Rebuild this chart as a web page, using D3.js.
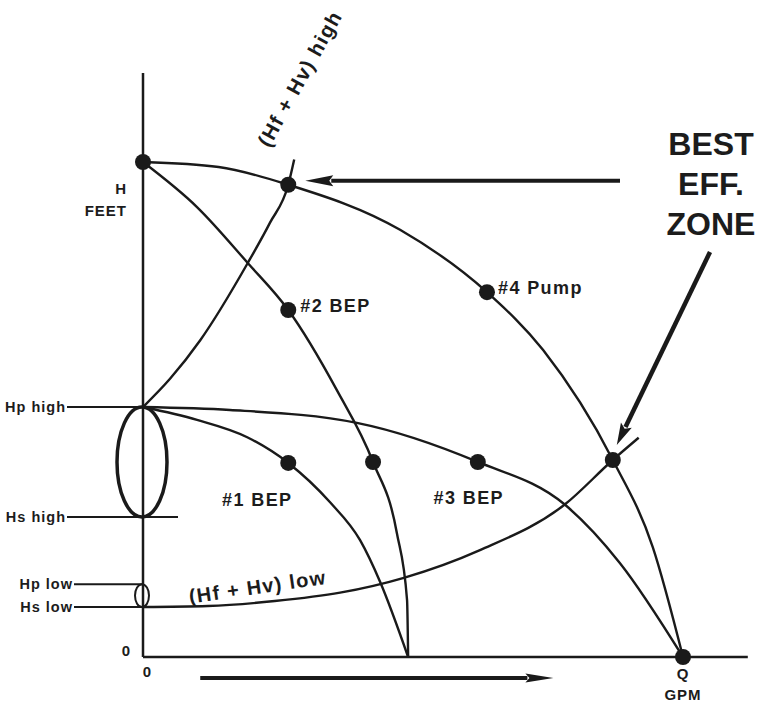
<!DOCTYPE html>
<html>
<head>
<meta charset="utf-8">
<script src="https://cdn.jsdelivr.net/npm/d3@7"></script>
<style>
  html, body { margin: 0; padding: 0; background: #fff; }
  svg { display: block; }
  text { font-family: "Liberation Sans", Arial, Helvetica, sans-serif; font-weight: bold; fill: #1c1c1c; }
</style>
</head>
<body>
<svg id="chart" width="759" height="705"></svg>
<script>
// Head levels marked on the H axis (relative head units)
const levelNames  = ["Hp high", "Hs high", "Hp low", "Hs low"];
const levelValues = [50.5, 28.3, 14.7, 10.1];

// Head-capacity curves as [Q, H] pairs (Q and H in relative units, 100 = full scale)
const pump4Curve = [[0, 100], [14, 99], [26.9, 95.4], [47.6, 86.3], [63.7, 73.7], [74.1, 62], [87, 39.8], [94.4, 22.2], [100, 0]];
const pump2Curve = [[0, 100], [10, 90.9], [19.4, 79.6], [26.9, 70.1], [35.9, 53.9], [42.6, 39.4], [47, 25.1], [48.9, 11.5], [49.1, 0]];
const pump1Curve = [[0, 50.5], [10, 47.9], [19.3, 44.4], [26.9, 39.2], [34.6, 31.3], [40.2, 23.6], [43.9, 15.2], [49.1, 0]];
const pump3Curve = [[0, 50.5], [16.1, 49.9], [39.6, 47.3], [62, 39.4], [78.1, 30.8], [88.3, 19], [100, 0]];

// System curves (Hf + Hv) for the high and low static heads
const systemHigh = [[0, 50.5], [5, 56.2], [10.6, 64], [19.4, 79.6], [23.5, 87.7], [26.9, 95.4], [28, 100.5]];
const systemLow  = [[0, 10.1], [12, 10.3], [24.4, 11.3], [36.5, 13], [48.3, 16], [62.4, 21.6], [78.1, 30.8], [87, 39.8], [91.8, 44.3]];

// Marked operating points
const pointNames = ["H", "top", "#4 Pump", "best", "Q", "#2 BEP", "#1 BEP", "mid", "#3 BEP"];
const pointQ     = [0, 26.9, 63.7, 87, 100, 26.9, 26.9, 42.6, 62];
const pointH     = [100, 95.4, 73.7, 39.8, 0, 70.1, 39.2, 39.4, 39.4];

const svg = d3.select("#chart");
const ink = "#1a1a1a";

const x = d3.scaleLinear().domain([0, 100]).range([143, 683]);
const y = d3.scaleLinear().domain([0, 100]).range([657, 162]);

const line = d3.line()
  .x(d => x(d[0]))
  .y(d => y(d[1]))
  .curve(d3.curveMonotoneX);

// Axes
svg.append("line")
  .attr("x1", x(0)).attr("x2", x(0))
  .attr("y1", y(0)).attr("y2", y(118))
  .attr("stroke", ink).attr("stroke-width", 2.5);
svg.append("line")
  .attr("x1", x(0)).attr("x2", x(112))
  .attr("y1", y(0)).attr("y2", y(0))
  .attr("stroke", ink).attr("stroke-width", 2.5);

// Level marks with their names
levelValues.forEach((v, i) => {
  const isLow = v < 20;
  const x1 = isLow ? 74 : 67;
  const x2 = levelNames[i] === "Hs high" ? x(0) + 35 : x(0);
  svg.append("line")
    .attr("x1", x1).attr("x2", x2)
    .attr("y1", y(v)).attr("y2", y(v))
    .attr("stroke", ink).attr("stroke-width", 2);
  svg.append("text")
    .attr("x", x1 - 1).attr("y", y(v) + 5)
    .attr("text-anchor", "end")
    .attr("font-size", 14.5)
    .attr("letter-spacing", 1)
    .text(levelNames[i]);
});

// Static head ellipses between Hs and Hp
function headEllipse(top, bottom, rx, sw) {
  svg.append("ellipse")
    .attr("cx", x(0) - 1)
    .attr("cy", (y(top) + y(bottom)) / 2)
    .attr("rx", rx)
    .attr("ry", (y(bottom) - y(top)) / 2)
    .attr("fill", "none").attr("stroke", ink).attr("stroke-width", sw);
}
headEllipse(levelValues[0], levelValues[1], 25, 3.5);
headEllipse(levelValues[2], levelValues[3], 7, 2);

// Curves
[pump4Curve, pump2Curve, pump1Curve, pump3Curve, systemHigh, systemLow].forEach(c => {
  svg.append("path")
    .attr("d", line(c))
    .attr("fill", "none")
    .attr("stroke", ink)
    .attr("stroke-width", 2.4);
});

// Operating points
svg.selectAll("circle.pt")
  .data(pointQ.map((q, i) => ({ q, h: pointH[i], name: pointNames[i] })))
  .join("circle")
  .attr("class", "pt")
  .attr("cx", d => x(d.q)).attr("cy", d => y(d.h))
  .attr("r", 8).attr("fill", ink);

// Point labels
const pt = name => {
  const i = pointNames.indexOf(name);
  return [x(pointQ[i]), y(pointH[i])];
};
function label(name, dx, dy, anchor) {
  const [px, py] = pt(name);
  svg.append("text")
    .attr("x", px + dx).attr("y", py + dy)
    .attr("text-anchor", anchor)
    .attr("font-size", 18)
    .attr("letter-spacing", 1.4)
    .text(name);
}
label("#4 Pump", 11, 2, "start");
label("#2 BEP", 12, 2, "start");
label("#1 BEP", -31, 43, "middle");
label("#3 BEP", -9, 42, "middle");

// System curve names
const hiEnd = systemHigh[systemHigh.length - 1];
svg.append("text")
  .attr("transform", `translate(${x(hiEnd[0]) - 25},${y(hiEnd[1]) - 11}) rotate(-61)`)
  .attr("font-size", 20.5)
  .attr("letter-spacing", 1.3)
  .text("(Hf + Hv) high");
svg.append("text")
  .attr("transform", `translate(${x(8.7)},${y(10.8)}) rotate(-8.2)`)
  .attr("font-size", 20)
  .attr("letter-spacing", 1.3)
  .text("(Hf + Hv) low");

// Axis names
svg.append("text").attr("x", 127).attr("y", 194).attr("text-anchor", "end")
  .attr("font-size", 15).attr("letter-spacing", 1).text("H");
svg.append("text").attr("x", 127).attr("y", 216).attr("text-anchor", "end")
  .attr("font-size", 15).attr("letter-spacing", 1).text("FEET");
svg.append("text").attr("x", x(100)).attr("y", 679).attr("text-anchor", "middle")
  .attr("font-size", 15).attr("letter-spacing", 1).text("Q");
svg.append("text").attr("x", x(100)).attr("y", 700).attr("text-anchor", "middle")
  .attr("font-size", 15).attr("letter-spacing", 1).text("GPM");
svg.append("text").attr("x", x(0) - 17).attr("y", y(0) - 1).attr("text-anchor", "middle")
  .attr("font-size", 15).text("0");
svg.append("text").attr("x", x(0) + 4).attr("y", y(0) + 20).attr("text-anchor", "middle")
  .attr("font-size", 15).text("0");

// Best efficiency zone callout
["BEST", "EFF.", "ZONE"].forEach((t, i) => {
  svg.append("text")
    .attr("x", 711).attr("y", 155 + i * 40)
    .attr("text-anchor", "middle")
    .attr("font-size", 32)
    .text(t);
});

// Arrows
function arrow(x1, y1, x2, y2, width, headLen, headHalf) {
  const ang = Math.atan2(y2 - y1, x2 - x1);
  const ux = Math.cos(ang), uy = Math.sin(ang);
  const bx = x2 - ux * headLen, by = y2 - uy * headLen;
  svg.append("line")
    .attr("x1", x1).attr("y1", y1).attr("x2", bx + ux * 2).attr("y2", by + uy * 2)
    .attr("stroke", ink).attr("stroke-width", width);
  svg.append("path")
    .attr("d", `M${x2},${y2}L${bx - uy * headHalf},${by + ux * headHalf}L${bx + ux * 4},${by + uy * 4}L${bx + uy * headHalf},${by - ux * headHalf}Z`)
    .attr("fill", ink);
}
const [tx, ty] = pt("top");
arrow(620, ty - 4, tx + 17, ty - 4, 4, 28, 5.5);
const [bx, by] = pt("best");
arrow(710, 252, bx + 4, by - 15, 4.5, 22, 6);
arrow(x(10.6), y(0) + 21, x(76), y(0) + 21, 4, 28, 4.5);
</script>
</body>
</html>
